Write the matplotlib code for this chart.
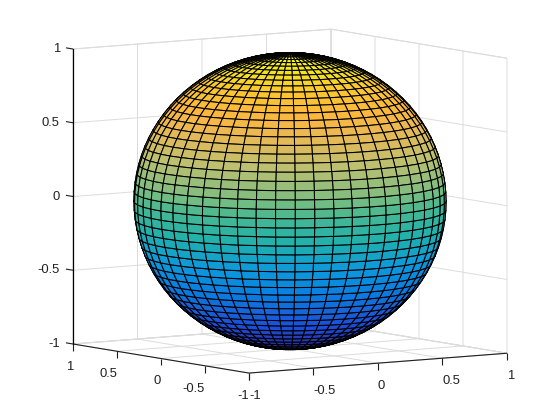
import numpy as np
import matplotlib
matplotlib.use("Agg")
import matplotlib.pyplot as plt
from matplotlib.colors import LinearSegmentedColormap
from mpl_toolkits.mplot3d import proj3d

plt.rcParams['font.family'] = ['Liberation Sans', 'DejaVu Sans']
plt.rcParams['grid.color'] = '#dcdcdc'
plt.rcParams['grid.linewidth'] = 0.7

# --- data ---
panels = 50
ticks = [-1, -0.5, 0, 0.5, 1]
tick_labels = ['-1', '-0.5', '0', '0.5', '1']
color_levels = [-1.0, -0.95, -0.8, -0.67, -0.6, -0.4, -0.2, 0.0, 0.1, 0.3, 0.5, 0.65, 0.8, 0.9, 1.0]
color_values = ['#301f80', '#2a30a8', '#1a50dc', '#1668d8', '#0a78e0', '#0c98dc', '#1fb0ab', '#50b98f',
                '#7fbd80', '#bcc070', '#e8b856', '#fdb83c', '#fac82e', '#f5e020', '#f9fb15']

# --- surface ---
theta = np.linspace(-np.pi, np.pi, panels + 1)
phi = np.linspace(-np.pi / 2, np.pi / 2, panels + 1)
X = np.outer(np.cos(phi), np.cos(theta))
Y = np.outer(np.cos(phi), np.sin(theta))
Z = np.outer(np.sin(phi), np.ones_like(theta))

cmap = LinearSegmentedColormap.from_list(
    'parula_like', [((v + 1) / 2, c) for v, c in zip(color_levels, color_values)], N=256)

W, H = 560, 420
fig = plt.figure(figsize=(W / 100, H / 100), dpi=100, facecolor='white')
ax = fig.add_axes([0, 0, 1, 1], projection='3d', computed_zorder=False)
ax.apply_aspect = lambda position=None: None  # allow MATLAB-like stretch to fill
ax.set_proj_type('ortho')
ax.view_init(elev=6.8, azim=-124.3)
ax.set_box_aspect((1, 1, 1))
ax.set_xlim(-1, 1)
ax.set_ylim(-1, 1)
ax.set_zlim(-1, 1)
ax.set_xticks(ticks)
ax.set_yticks(ticks)
ax.set_zticks(ticks)
ax.tick_params(axis='x', color='none', labelbottom=False, labelleft=False, labelsize=1, labelcolor='none')
ax.tick_params(axis='y', color='none', labelbottom=False, labelleft=False, labelsize=1, labelcolor='none')
ax.tick_params(axis='z', color='none', labelbottom=False, labelleft=False, labelsize=1, labelcolor='none')
ax.xaxis.set_major_formatter(plt.NullFormatter())
ax.yaxis.set_major_formatter(plt.NullFormatter())
ax.zaxis.set_major_formatter(plt.NullFormatter())
for axis in (ax.xaxis, ax.yaxis, ax.zaxis):
    axis.set_pane_color('white')
    axis.pane.set_edgecolor('#dcdcdc')
    axis.pane.set_linewidth(0.7)
    axis.line.set_color('none')


def project(x, y, z):
    px, py, _ = proj3d.proj_transform(x, y, z, ax.get_proj())
    return px, py


# place the axes so the box corners land where the reference has them
def frac(x, y, z):
    return ax.transData.transform(project(x, y, z)) / (W, H)


a1, a2 = frac(-1, 1, -1), frac(1, -1, -1)
a3, a4 = frac(-1, 1, -1), frac(-1, 1, 1)
w = (507 - 73) / W / (a2[0] - a1[0])
x0 = 73 / W - w * a1[0]
h = ((344 - 49) / H) / (a4[1] - a3[1])
y0 = (H - 344) / H - h * a3[1]
ax.set_position([x0, y0, w, h])

ax.plot_surface(X, Y, Z, facecolors=cmap((Z + 1) / 2), rstride=1, cstride=1, shade=False,
                edgecolor='black', linewidth=0.75, antialiased=True, zorder=2)

# axis rulers, ticks and labels
ink = '#202020'
line = dict(color=ink, lw=0.8, zorder=3, solid_capstyle='butt')
ax.plot([-1, 1], [-1, -1], [-1, -1], **line)
ax.plot([-1, -1], [-1, 1], [-1, -1], **line)
ax.plot([-1, -1], [1, 1], [-1, 1], color='black', lw=0.9, zorder=3)


def label(x, y, z, s, ha):
    px, py = project(x, y, z)
    ax.text2D(px, py, s, transform=ax.transData, ha=ha, va='center', fontsize=9.4, color=ink)


for t, s in zip(ticks, tick_labels):
    ax.plot([t, t], [-1, -1], [-1, -1.046], **line)
    ax.plot([-1, -1], [t, t], [-1, -1.046], **line)
    ax.plot([-1, -1], [1, 1.08], [t, t], **line)
    label(t, -1, -1.155, s, 'left')
    label(-1, t, -1.155, s, 'right')
    label(-1, 1.15, t - 0.015, s, 'right')

fig.savefig('out.png', dpi=100, facecolor='white')
